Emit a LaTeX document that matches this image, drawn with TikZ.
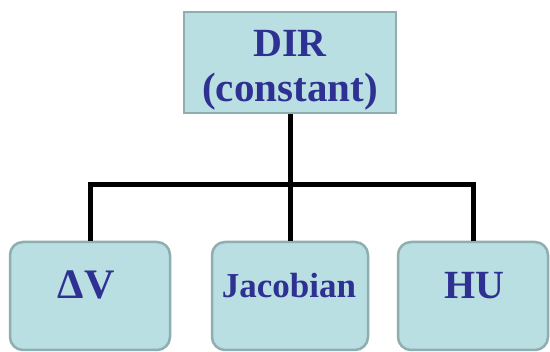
\documentclass[tikz,border=0pt]{standalone}
\usepackage{fontspec}
\setmainfont{Liberation Serif}
\begin{document}
\begin{tikzpicture}[x=1pt,y=-1pt,
  boxfill/.style={draw=boxline, fill=boxbg, line width=2.5pt},
  topbox/.style={boxfill, minimum width=212pt, minimum height=101pt, inner sep=0pt},
  leafbox/.style={boxfill, rounded corners=13pt, minimum height=108pt, inner sep=0pt},
  lbl/.style={text=txtblue, font=\bfseries\fontsize{40}{40}\selectfont, anchor=base, inner sep=0pt},
  conn/.style={line width=5pt, black}
]
\definecolor{boxbg}{HTML}{B9DFE2}
\definecolor{boxline}{HTML}{8EAEAF}
\definecolor{txtblue}{HTML}{2E3192}
\useasboundingbox (0,0) rectangle (550,352);
\fill[white] (0,0) rectangle (550,352);
% boxes
\node[topbox] (top) at (290,62.5) {};
\node[leafbox, minimum width=160pt] (b1) at (90,296) {};
\node[leafbox, minimum width=156pt] (b2) at (290,296) {};
\node[leafbox, minimum width=150pt] (b3) at (473,296) {};
% texts
\node[lbl] (dirt) at (290,57) {DIR};
\node[lbl, font=\bfseries\fontsize{41}{41}\selectfont] (const) at (290,102) {(constant)};
\node[lbl, font=\bfseries\fontsize{42}{42}\selectfont] (t1) at (86,299) {ΔV};
\node[lbl, font=\bfseries\fontsize{35}{35}\selectfont] (t2) at (289,298) {Jacobian};
\node[lbl] (t3) at (474,299) {HU};
% connectors
\coordinate (j) at (290,185);
\draw[conn] (top.south) -- (j);
\draw[conn] (b1.north) |- (j) -| (b3.north);
\draw[conn] (j) -- (b2.north);
\end{tikzpicture}
\end{document}
